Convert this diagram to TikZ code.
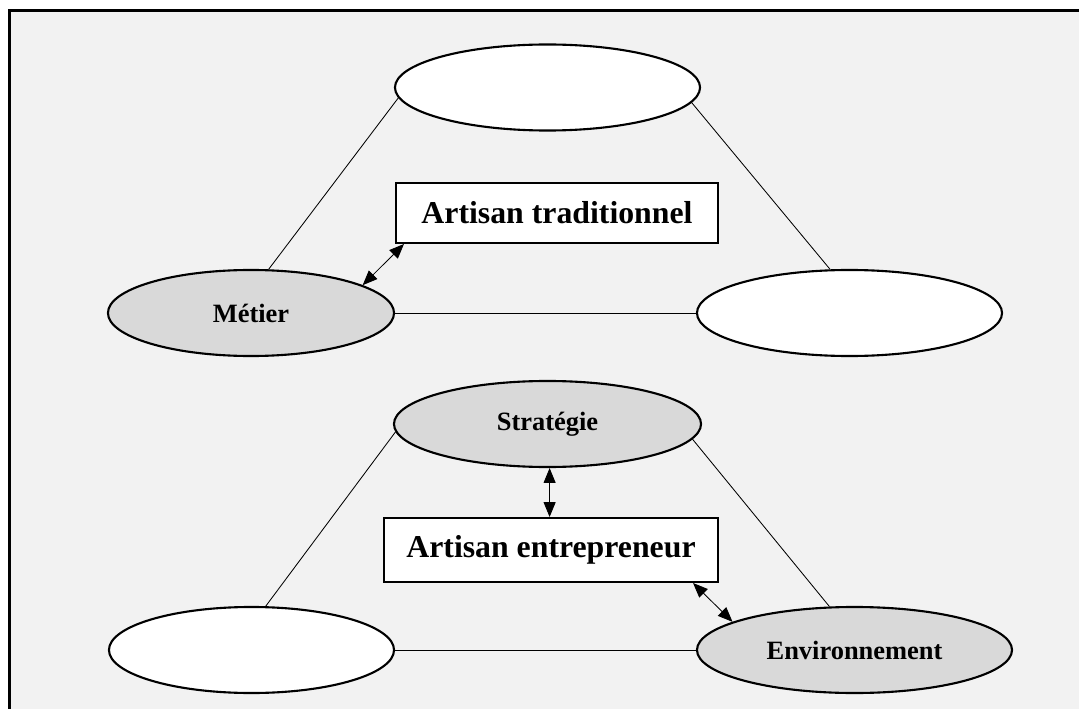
\documentclass[tikz,border=0pt]{standalone}
\usepackage{fontspec}
\setmainfont{Liberation Serif}
\usetikzlibrary{shapes.geometric,arrows.meta,calc}
\definecolor{pagegray}{HTML}{F2F2F2}
\definecolor{polegray}{HTML}{D9D9D9}
\tikzset{%
  every pole/.style={
    ellipse,
    draw,
    line width=1.5pt,
    fill=white,
    inner sep=0pt,
    minimum height=2.15cm,
    font=\fontsize{18.8}{22}\selectfont\bfseries
  },
  pole filled/.style={
    fill=polegray
  },
  artisan/.style={
    rectangle,
    draw,
    line width=1.4pt,
    fill=white,
    inner sep=0pt,
    font=\fontsize{22.6}{27}\selectfont\bfseries
  },
  link/.style={line width=0.6pt}
 }

\begin{document}
\begin{tikzpicture}[x=0.025cm, y=-0.025cm, >={Triangle[length=10.5pt,width=8.5pt]}]

\useasboundingbox (0,0) rectangle (1079,709);
\clip (0,0) rectangle (1079,709);
\draw [fill=pagegray, line width=1.8pt] (9.5,10.5) rectangle (1100,730);

% artisan traditionnel
\node [every pole, minimum width=7.625cm] (tradtop) at (547.5,87.5) {};
\node [every pole, pole filled, minimum width=7.15cm] (metier) at (251,313) {M\'etier};
\node [every pole, minimum width=7.625cm] (tradright) at (849.5,313) {};
\node [artisan, minimum width=8.05cm, minimum height=1.5cm] (tradbox) at (557,213) {Artisan traditionnel};

\draw [link] (tradtop.184) -- (metier.68);
\draw [link] (tradtop.354) -- (tradright.114);
\draw [link] (metier.east) -- (tradright.west);
\draw [<->, link] (metier.14) -- ($(tradbox.south west)+(9,0)$);

% artisan entrepreneur
\node [every pole, pole filled, minimum width=7.675cm] (strategie) at (547.5,424) {Strat\'egie};
\node [every pole, minimum width=7.125cm] (entleft) at (251.5,650) {};
\node [every pole, pole filled, minimum width=7.875cm] (environnement) at (854.5,650) {Environnement};
\node [artisan, minimum width=8.35cm, minimum height=1.6cm] (entbox) at (551,550) {Artisan entrepreneur};

\draw [link] (strategie.183) -- (entleft.72);
\draw [link] (strategie.354) -- (environnement.120);
\draw [link] (entleft.east) -- (environnement.west);
\draw [<->, link] ([xshift=1.5]strategie.south) -- ([xshift=1.5]strategie.south |- entbox.north);
\draw [<->, link] ($(entbox.south east)+(-26,0)$) -- (environnement.167);

\end{tikzpicture}
\end{document}
